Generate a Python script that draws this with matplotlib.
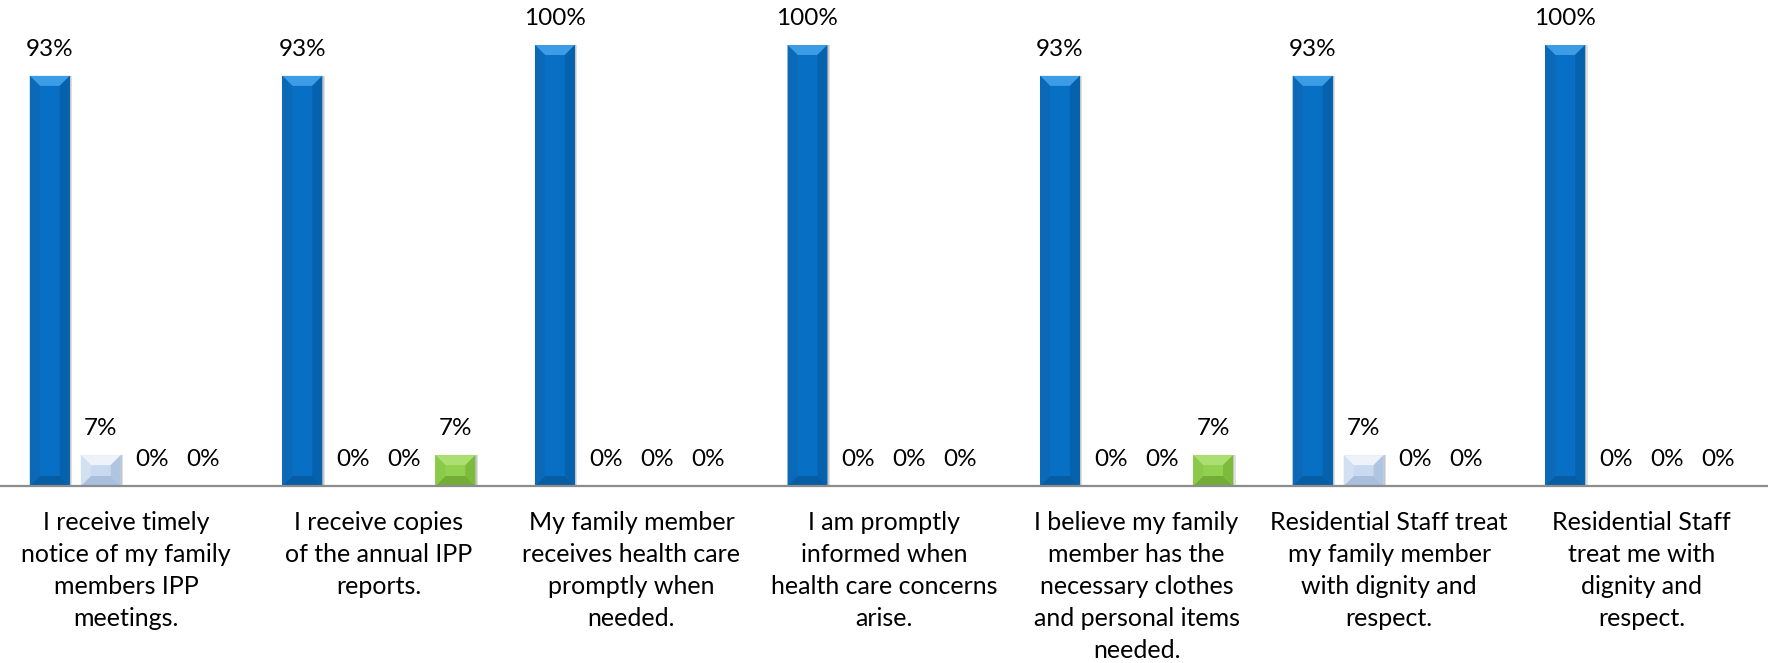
import matplotlib
matplotlib.use("Agg")
import matplotlib.pyplot as plt
from matplotlib.patches import Polygon, Rectangle
import numpy as np

# Survey statements (x-axis categories)
categories = [
    "I receive timely\nnotice of my family\nmembers IPP\nmeetings.",
    "I receive copies\nof the annual IPP\nreports.",
    "My family member\nreceives health care\npromptly when\nneeded.",
    "I am promptly\ninformed when\nhealth care concerns\narise.",
    "I believe my family\nmember has the\nnecessary clothes\nand personal items\nneeded.",
    "Residential Staff treat\nmy family member\nwith dignity and\nrespect.",
    "Residential Staff\ntreat me with\ndignity and\nrespect.",
]

# Response shares (%) per statement, one list per answer option
series_1 = [93, 93, 100, 100, 93, 93, 100]
series_2 = [7, 0, 0, 0, 0, 7, 0]
series_3 = [0, 0, 0, 0, 0, 0, 0]
series_4 = [0, 7, 0, 0, 7, 0, 0]

series = [series_1, series_2, series_3, series_4]

# face, top facet, left facet, right facet, bottom facet
palettes = [
    ("#0870C4", "#3C9CE6", "#0B69B8", "#0762AE", "#065DA4"),
    ("#C9DAF0", "#EEF3FB", "#D3E0F2", "#B0C5E2", "#A9BFDD"),
    ("#C0504D", "#D47C7A", "#B54845", "#A8403D", "#9E3A37"),
    ("#92D050", "#ABDF70", "#8BC94A", "#7DBB3D", "#72AD35"),
]

plt.rcParams["font.family"] = ["Lato", "DejaVu Sans"]

W, H, DPI = 17.68, 6.63, 100
fig = plt.figure(figsize=(W, H), dpi=DPI)
axis_y_px = 486
ax = fig.add_axes([0, (H * DPI - axis_y_px) / (H * DPI), 1, axis_y_px / (H * DPI)])

n_cat = len(categories)
x = np.arange(n_cat)
step = 0.202
bar_w = 0.158
offsets = (np.arange(len(series)) - (len(series) - 1) / 2) * step

ax.set_xlim(-0.5, n_cat - 0.5)
ymax = 100 * axis_y_px / 441
ax.set_ylim(0, ymax)
for s in ax.spines.values():
    s.set_visible(False)
ax.set_xticks([])
ax.set_yticks([])

# pixel -> data conversion for bevel depth
px_x = (W * DPI) / (n_cat)      # pixels per x unit
px_y = axis_y_px / ymax         # pixels per y unit
bevel_px = 10
shadow_px = 2.5

value_fs = 17.5
cat_fs = 18
for si, vals in enumerate(series):
    face, top_c, left_c, right_c, bot_c = palettes[si]
    bars = ax.bar(x + offsets[si], vals, width=bar_w, color=face,
                  edgecolor="none", zorder=3)
    for b, v in zip(bars, vals):
        x0, y0 = b.get_x(), b.get_y()
        w, h = b.get_width(), b.get_height()
        if h > 0:
            x1, y1 = x0 + w, y0 + h
            # soft shadow
            for k, a in [(shadow_px, 0.18), (shadow_px * 0.5, 0.18)]:
                ax.add_patch(Rectangle((x0 + k / px_x, y0), w, h,
                                       facecolor="#555555", alpha=a,
                                       edgecolor="none", zorder=2))
            d = min(bevel_px, h * px_y / 2.2)
            dx, dy = d / px_x, d / px_y
            facets = [
                ([(x0, y1), (x1, y1), (x1 - dx, y1 - dy), (x0 + dx, y1 - dy)], top_c),
                ([(x0, y0), (x1, y0), (x1 - dx, y0 + dy), (x0 + dx, y0 + dy)], bot_c),
                ([(x0, y0), (x0, y1), (x0 + dx, y1 - dy), (x0 + dx, y0 + dy)], left_c),
                ([(x1, y0), (x1, y1), (x1 - dx, y1 - dy), (x1 - dx, y0 + dy)], right_c),
            ]
            for pts, c in facets:
                ax.add_patch(Polygon(pts, closed=True, facecolor=c,
                                     edgecolor="none", zorder=4))
        ax.annotate(f"{v}%", (x0 + w / 2, y0 + h), xytext=(0, 19),
                    textcoords="offset points", ha="center", va="center",
                    fontsize=value_fs, color="#000000", zorder=5)

# baseline
ax.axhline(0, color="#8C8C8C", linewidth=1.6, zorder=6, clip_on=False)

# category labels
for xi, lab in zip(x, categories):
    ax.annotate(lab, (xi, 0), xytext=(0, -18), textcoords="offset points",
                ha="center", va="top", fontsize=cat_fs, color="#000000",
                linespacing=1.47, annotation_clip=False)

fig.savefig("out.png", dpi=DPI)
